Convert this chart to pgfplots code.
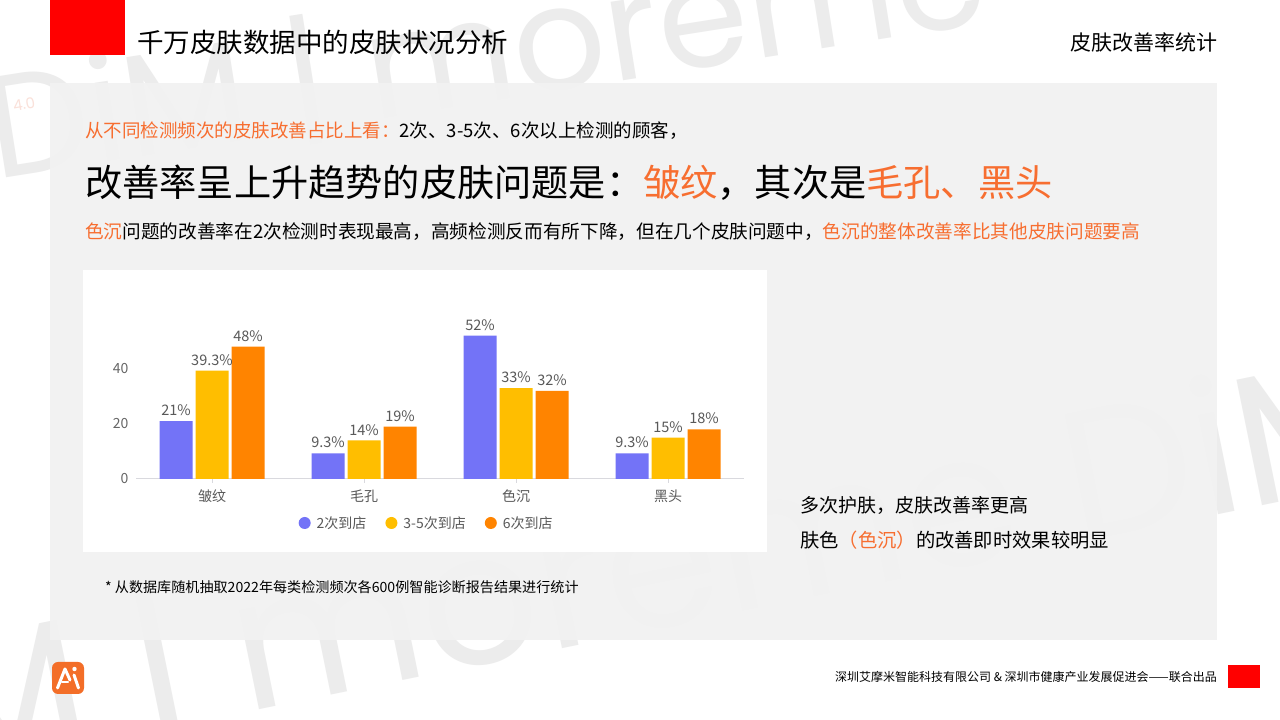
\documentclass[border=0pt]{standalone}
\usepackage{fontspec}
\setmainfont{Noto Sans CJK SC}
\newfontfamily\wmfont{Poppins}
\usepackage{pgfplots}
\pgfplotsset{compat=1.18}
\definecolor{barblue}{RGB}{115,115,247}
\definecolor{baryellow}{RGB}{255,190,0}
\definecolor{barorange}{RGB}{255,132,0}
\definecolor{accent}{RGB}{247,110,48}
\definecolor{panelgray}{RGB}{242,242,242}
\definecolor{wmgray}{RGB}{236,236,236}
\definecolor{labgray}{RGB}{89,89,89}
\definecolor{tickgray}{RGB}{102,102,102}
\definecolor{axgray}{RGB}{217,217,222}
\definecolor{logoorange}{RGB}{243,110,40}
\definecolor{slidered}{RGB}{255,0,0}
\newcommand\fs[1]{\fontsize{#1bp}{#1bp}\selectfont}
\begin{document}
\begin{tikzpicture}[x=1bp,y=1bp]
\useasboundingbox (0,0) rectangle (1280,720);
\fill[white] (0,0) rectangle (1280,720);
% watermark
\node[wmgray, font=\wmfont\fs{145}, rotate=9, anchor=base west, inner sep=0] at (-5,540) {DiM | moreme};
\node[wmgray, font=\wmfont\fs{185}, rotate=11.5, anchor=base west, inner sep=0] at (-60,-55) {M | moreme DiM | mo};
\node[color={rgb,255:red,250;green,225;blue,218}, font=\wmfont\fs{15}, rotate=10, inner sep=0] at (24,616) {4.0};
% panel
\fill[panelgray, fill opacity=0.95] (50,80) rectangle (1217,637);
% header
\fill[slidered] (50,665) rectangle (125,720);
\node[anchor=west, font=\fs{26.5}, inner sep=0] at (137,678) {千万皮肤数据中的皮肤状况分析};
\node[anchor=east, font=\fs{21}, inner sep=0] at (1218,678) {皮肤改善率统计};
% texts
\node[anchor=west, font=\fs{18.5}, inner sep=0] at (85,589) {{\color{accent}从不同检测频次的皮肤改善占比上看：}2次、3-5次、6次以上检测的顾客，};
\node[anchor=west, font=\fs{37.2}, inner sep=0] at (85,537) {改善率呈上升趋势的皮肤问题是：{\color{accent}皱纹}，其次是{\color{accent}毛孔、黑头}};
\node[anchor=west, font=\fs{18.65}, inner sep=0] at (85,488) {{\color{accent}色沉}问题的改善率在2次检测时表现最高，高频检测反而有所下降，但在几个皮肤问题中，{\color{accent}色沉的整体改善率比其他皮肤问题要高}};
% chart panel
\fill[white] (83,168) rectangle (767,450);
\begin{axis}[
  at={(136bp,241bp)}, anchor=south west,
  scale only axis, width=608bp, height=165.36bp,
  xmin=-0.5, xmax=3.5, ymin=0, ymax=60,
  ybar=3bp, bar width=33bp,
  axis lines*=left,
  x axis line style={draw=axgray, line width=1bp},
  y axis line style={draw=none},
  xtick={0,1,2,3}, xticklabels={皱纹,毛孔,色沉,黑头},
  ytick={0,20,40},
  xtick style={draw=axgray, line width=0.8bp},
  ytick style={draw=none},
  tick align=outside, major tick length=4bp,
  xticklabel style={font=\fs{14}, text=labgray, yshift=-3bp},
  yticklabel style={font=\fs{14}, text=tickgray},
  /pgf/number format/assume math mode=true,
  nodes near coords={\pgfmathprintnumber[assume math mode=true]{\pgfplotspointmeta}\%},
  every node near coord/.append style={font=\fs{14.5}, text=labgray, inner sep=0pt, yshift=5bp},
  legend columns=3,
  legend style={at={(0.478,-0.266)}, anchor=center, draw=none, fill=none, font=\fs{14}, text=labgray,
    /tikz/every odd column/.append style={column sep=4bp},
    /tikz/every even column/.append style={column sep=17bp}},
  legend image code/.code={\fill[#1] (6bp,0bp) circle (6bp);},
]
\addplot[fill=barblue, draw=none] coordinates {(0,21) (1,9.3) (2,52) (3,9.3)};
\addplot[fill=baryellow, draw=none] coordinates {(0,39.3) (1,14) (2,33) (3,15)};
\addplot[fill=barorange, draw=none] coordinates {(0,48) (1,19) (2,32) (3,18)};
\legend{2次到店,3-5次到店,6次到店}
\end{axis}
% right notes
\node[anchor=west, font=\fs{19}, inner sep=0] at (800,215) {多次护肤，皮肤改善率更高};
\node[anchor=west, font=\fs{19.3}, inner sep=0] at (800,180) {肤色{\color{accent}（色沉）}的改善即时效果较明显};
% footnote
\node[anchor=west, font=\fs{14.1}, inner sep=0] at (105,133) {* 从数据库随机抽取2022年每类检测频次各600例智能诊断报告结果进行统计};
% footer
\fill[logoorange, rounded corners=6bp] (52,26) rectangle (84,58);
\draw[white, line width=3bp, line cap=round, line join=round] (57.5,32) -- (65,51) -- (70,40);
\fill[white] (74.5,51) circle (2.2bp);
\draw[white, line width=3bp, line cap=round] (74,45) -- (78.5,32);
\draw[white, line width=2.5bp, line cap=round] (62,38) -- (68,38);
\node[anchor=east, font=\fs{12}, inner sep=0] at (1217,43) {深圳艾摩米智能科技有限公司 \& 深圳市健康产业发展促进会——联合出品};
\fill[slidered] (1228,32) rectangle (1260,55);
\end{tikzpicture}
\end{document}
